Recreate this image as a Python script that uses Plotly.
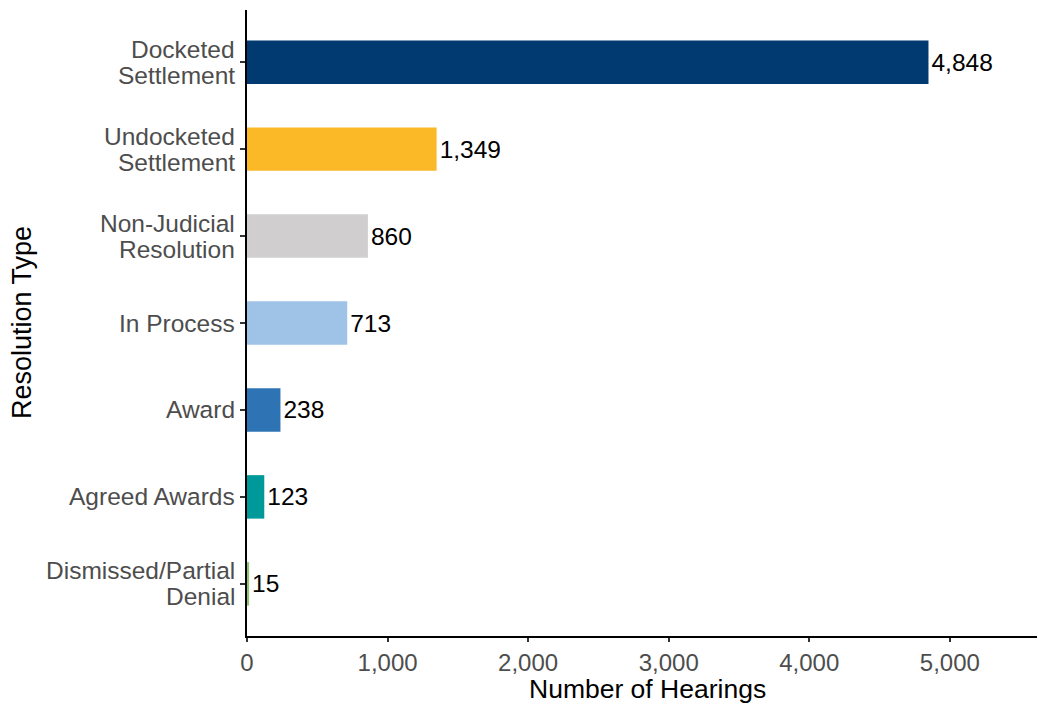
import plotly.graph_objects as go

categories = ["Docketed Settlement", "Undocketed Settlement", "Non-Judicial Resolution",
              "In Process", "Award", "Agreed Awards", "Dismissed/Partial Denial"]
label_lines = [["Docketed", "Settlement"], ["Undocketed", "Settlement"], ["Non-Judicial", "Resolution"],
               ["In Process"], ["Award"], ["Agreed Awards"], ["Dismissed/Partial", "Denial"]]
values = [4848, 1349, 860, 713, 238, 123, 15]
colors = ["#003a70", "#fbb928", "#d0cecf", "#9fc3e7", "#2e74b5", "#00999a", "#8fc470"]
x_ticks = [0, 1000, 2000, 3000, 4000, 5000]

FONT = "Liberation Sans, Arial"

fig = go.Figure(go.Bar(
    x=values, y=categories, orientation="h",
    marker=dict(color=colors, line=dict(width=0)),
    width=0.5,
    text=[f"{v:,}" for v in values], textposition="outside",
    textfont=dict(family=FONT, size=24.5, color="black"),
    cliponaxis=False,
))

annotations = []
for cat, lines in zip(categories, label_lines):
    n = len(lines)
    for i, line in enumerate(lines):
        shift = 0 if n == 1 else (13 if i == 0 else -13)
        annotations.append(dict(
            x=0, xref="paper", y=cat, yref="y", text=line, showarrow=False,
            xanchor="right", yanchor="middle", xshift=-10, yshift=shift,
            font=dict(family=FONT, size=24.5, color="#4d4d4d")))
annotations.append(dict(
    x=0, xref="paper", y=0.5, yref="paper", text="Resolution Type", textangle=-90,
    showarrow=False, xanchor="center", yanchor="middle", xshift=-225,
    font=dict(family=FONT, size=27, color="black")))
annotations.append(dict(
    x=0.5, xref="paper", y=0, yref="paper", text="Number of Hearings",
    showarrow=False, xanchor="center", yanchor="middle", xshift=5, yshift=-53,
    font=dict(family=FONT, size=26.5, color="black")))

fig.update_layout(
    width=1038, height=704,
    margin=dict(l=247, r=1, t=10, b=68),
    plot_bgcolor="white", paper_bgcolor="white",
    font=dict(family=FONT, size=24, color="#4d4d4d"),
    showlegend=False,
    annotations=annotations,
    xaxis=dict(range=[0, 5620], tickvals=x_ticks, tickformat=",", showgrid=False, zeroline=False,
               showline=True, linecolor="black", linewidth=2, ticks="outside", ticklen=4,
               tickcolor="#333333", tickwidth=1.5,
               tickfont=dict(family=FONT, size=24, color="#4d4d4d")),
    yaxis=dict(autorange=False, range=[6.6, -0.6], categoryorder="array", categoryarray=categories,
               showgrid=False, zeroline=False, showticklabels=False,
               showline=True, linecolor="black", linewidth=2, ticks="outside", ticklen=5,
               tickcolor="#333333", tickwidth=1.5),
)
fig.write_html("out.html")
